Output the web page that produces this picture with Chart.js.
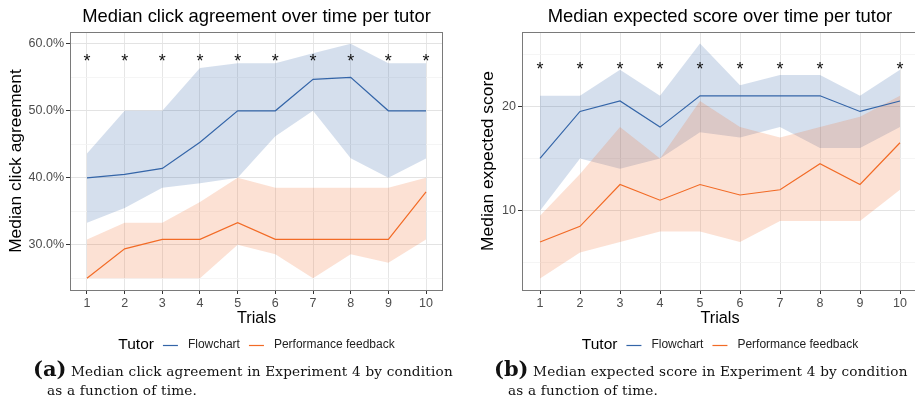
<!DOCTYPE html>
<html>
<head>
<meta charset="utf-8">
<script src="https://cdn.jsdelivr.net/npm/chart.js@4.4.1/dist/chart.umd.min.js"></script>
<style>
  html, body { margin: 0; padding: 0; background: #fff; }
  body { width: 915px; height: 406px; overflow: hidden; position: relative; }
  .panel { position: absolute; top: 0; height: 358px; }
  #panelA { left: 0; width: 450px; }
  #panelB { left: 460px; width: 460px; }
  .caption {
    position: absolute; top: 359px; white-space: nowrap;
    font-family: "DejaVu Serif", "Liberation Serif", serif;
    font-size: 13.6px; line-height: 19px; color: #111; letter-spacing: 0.2px;
  }
  .caption b { font-size: 21px; font-weight: bold; letter-spacing: 0; }
  .caption .l2 { padding-left: 14px; }
  #capA { left: 33px; }
  #capB { left: 494px; }
</style>
</head>
<body>
<div class="panel" id="panelA"><canvas id="clickChart"></canvas></div>
<div class="panel" id="panelB"><canvas id="scoreChart"></canvas></div>
<div class="caption" id="capA"><b>(a)</b> Median click agreement in Experiment 4 by condition<br><span class="l2">as a function of time.</span></div>
<div class="caption" id="capB"><b>(b)</b> Median expected score in Experiment 4 by condition<br><span class="l2">as a function of time.</span></div>

<script>
const trials = [1, 2, 3, 4, 5, 6, 7, 8, 9, 10];
const tutors = ['Flowchart', 'Performance feedback'];

// click agreement (%) - median and ribbon bounds
const clickFlow   = [40.0, 40.5, 41.4, 45.3, 50.0, 50.0, 54.7, 55.0, 50.0, 50.0];
const clickFlowHi = [43.6, 50.0, 50.0, 56.4, 57.1, 57.1, 58.6, 60.0, 57.1, 57.1];
const clickFlowLo = [33.3, 35.5, 38.5, 39.2, 40.0, 46.2, 50.0, 42.9, 40.0, 42.9];
const clickPerf   = [25.0, 29.4, 30.8, 30.8, 33.3, 30.8, 30.8, 30.8, 30.8, 37.9];
const clickPerfHi = [30.8, 33.3, 33.3, 36.4, 40.0, 38.5, 38.5, 38.5, 38.5, 40.0];
const clickPerfLo = [25.0, 25.0, 25.0, 25.0, 30.0, 28.6, 25.0, 28.6, 27.3, 30.8];
const clickStars  = [1, 2, 3, 4, 5, 6, 7, 8, 9, 10];
const clickTicks  = [30, 40, 50, 60];
const clickMinor  = [25, 35, 45, 55];

// expected score - median and ribbon bounds
const scoreFlow   = [15, 19.5, 20.5, 18, 21, 21, 21, 21, 19.5, 20.5];
const scoreFlowHi = [21, 21, 23.5, 21, 26, 22, 23, 23, 21, 23.5];
const scoreFlowLo = [10, 15, 14, 15, 17.5, 17, 18, 16, 16, 18];
const scorePerf   = [7, 8.5, 12.5, 11, 12.5, 11.5, 12, 14.5, 12.5, 16.5];
const scorePerfHi = [9.5, 13.5, 18, 15, 20.5, 18, 17, 18, 19, 21];
const scorePerfLo = [3.5, 6, 7, 8, 8, 7, 9, 9, 9, 12];
const scoreStars  = [1, 2, 3, 4, 5, 6, 7, 8, 10];
const scoreTicks  = [10, 20];
const scoreMinor  = [5, 15, 25];

const BLUE = '#3465a8';
const ORANGE = '#f26b26';
const BLUE_FILL = 'rgba(46,95,163,0.2)';
const ORANGE_FILL = 'rgba(242,107,38,0.2)';

Chart.defaults.font.family = '"Liberation Sans", Arial, Helvetica, sans-serif';
Chart.defaults.animation = false;

const xy = (vals) => vals.map((v, i) => ({ x: trials[i], y: v }));

// draws the panel border, significance stars and the "Tutor" legend row
const panelDecor = {
  id: 'panelDecor',
  afterDatasetsDraw(chart, args, opts) {
    const { ctx, scales } = chart;
    const size = 18;
    ctx.save();
    ctx.fillStyle = '#111';
    ctx.font = `${size}px "Liberation Sans", Arial, sans-serif`;
    ctx.textAlign = 'center';
    ctx.textBaseline = 'alphabetic';
    opts.stars.forEach(t => {
      const px = scales.x.getPixelForValue(t);
      const py = scales.y.getPixelForValue(opts.starY);
      ctx.fillText('*', px, py + 0.57 * size);
    });
    ctx.restore();
  },
  afterDraw(chart, args, opts) {
    const { ctx, chartArea: a } = chart;
    ctx.save();
    ctx.strokeStyle = '#7a7a7a';
    ctx.lineWidth = 1;
    ctx.strokeRect(Math.round(a.left) + 0.5, Math.round(a.top) + 0.5,
      Math.round(a.right - a.left) - 1, Math.round(a.bottom - a.top));

    // legend row
    const y = a.bottom + 55;
    const titleFont = '15.5px "Liberation Sans", Arial, sans-serif';
    const itemFont = '12px "Liberation Sans", Arial, sans-serif';
    const lines = chart.data.datasets.filter(d => d.isMedian);
    ctx.font = titleFont;
    const titleW = ctx.measureText('Tutor').width;
    ctx.font = itemFont;
    const widths = lines.map(d => ctx.measureText(d.label).width);
    const keyW = 15, gapA = 9, gapB = 10;
    let total = titleW;
    widths.forEach(w => { total += gapA + keyW + gapB + w; });
    let x = (a.left + a.right) / 2 - total / 2;
    ctx.textBaseline = 'middle';
    ctx.textAlign = 'left';
    ctx.fillStyle = '#000';
    ctx.font = titleFont;
    ctx.fillText('Tutor', x, y);
    x += titleW;
    lines.forEach((d, i) => {
      x += gapA;
      ctx.strokeStyle = d.borderColor;
      ctx.lineWidth = 1.2;
      ctx.beginPath();
      ctx.moveTo(x, y + 0.5);
      ctx.lineTo(x + keyW, y + 0.5);
      ctx.stroke();
      x += keyW + gapB;
      ctx.font = itemFont;
      ctx.fillStyle = '#222';
      ctx.fillText(d.label, x, y);
      x += widths[i];
    });
    ctx.restore();
  }
};

function makeDatasets(flow, flowHi, flowLo, perf, perfHi, perfLo) {
  const band = (data, color, fill, order) => ({
    data: xy(data), borderWidth: 0, pointRadius: 0,
    backgroundColor: color, fill: fill, order: order, tension: 0
  });
  return [
    { label: tutors[0], isMedian: true, data: xy(flow), borderColor: BLUE,
      borderWidth: 1.2, pointRadius: 0, fill: false, order: 0 },
    { label: tutors[1], isMedian: true, data: xy(perf), borderColor: ORANGE,
      borderWidth: 1.2, pointRadius: 0, fill: false, order: 0 },
    band(flowHi, BLUE_FILL, '+1', 2),
    band(flowLo, BLUE_FILL, false, 2),
    band(perfHi, ORANGE_FILL, '+1', 1),
    band(perfLo, ORANGE_FILL, false, 1)
  ];
}

function makeChart(canvasId, cfg) {
  const isMajor = v => cfg.majors.includes(v);
  return new Chart(document.getElementById(canvasId), {
    type: 'line',
    data: { datasets: makeDatasets(...cfg.series) },
    plugins: [panelDecor],
    options: {
      responsive: true,
      maintainAspectRatio: false,
      layout: { padding: { left: 0, right: cfg.padRight, top: 0, bottom: 28 } },
      plugins: {
        legend: { display: false },
        tooltip: { enabled: false },
        title: {
          display: true, text: cfg.title, fullSize: false, color: '#000',
          font: { size: 18.4, weight: 'normal' },
          padding: { top: 6, bottom: 4 }
        },
        panelDecor: { stars: cfg.stars, starY: cfg.starY }
      },
      scales: {
        x: {
          type: 'linear', min: 0.55, max: 10.45,
          afterBuildTicks: axis => { axis.ticks = trials.map(v => ({ value: v })); },
          afterFit: axis => { axis.height = 40; },
          ticks: { autoSkip: false, maxRotation: 0, color: '#4d4d4d',
                   font: { size: 12.5 }, padding: 2 },
          grid: { color: '#e6e6e6', tickColor: '#333', tickLength: 4 },
          border: { display: false },
          title: { display: true, text: 'Trials', color: '#000',
                   font: { size: 16.3 }, padding: { top: 0, bottom: 2 } }
        },
        y: {
          type: 'linear', min: cfg.yMin, max: cfg.yMax,
          afterBuildTicks: axis => {
            axis.ticks = [...cfg.majors, ...cfg.minors].sort((a, b) => a - b)
              .map(v => ({ value: v }));
          },
          afterFit: axis => { axis.width = cfg.yWidth; },
          ticks: {
            color: '#4d4d4d', font: { size: 12.5 }, padding: 2,
            callback: v => isMajor(v) ? cfg.fmt(v) : ''
          },
          grid: {
            color: c => isMajor(c.tick.value) ? '#e3e3e3' : '#f2f2f2',
            lineWidth: c => isMajor(c.tick.value) ? 1 : 0.8,
            tickColor: c => isMajor(c.tick.value) ? '#333' : 'rgba(0,0,0,0)',
            tickLength: 4
          },
          border: { display: false },
          title: { display: true, text: cfg.yTitle, color: '#000',
                   font: { size: 17.4 }, padding: { top: cfg.yTitlePad, bottom: 0 } }
        }
      }
    }
  });
}

makeChart('clickChart', {
  title: 'Median click agreement over time per tutor',
  yTitle: 'Median click agreement',
  series: [clickFlow, clickFlowHi, clickFlowLo, clickPerf, clickPerfHi, clickPerfLo],
  majors: clickTicks, minors: clickMinor,
  yMin: 23.25, yMax: 61.75, yWidth: 70, yTitlePad: 5.6, padRight: 7,
  stars: clickStars, starY: 58,
  fmt: v => v.toFixed(1) + '%'
});

makeChart('scoreChart', {
  title: 'Median expected score over time per tutor',
  yTitle: 'Median expected score',
  series: [scoreFlow, scoreFlowHi, scoreFlowLo, scorePerf, scorePerfHi, scorePerfLo],
  majors: scoreTicks, minors: scoreMinor,
  yMin: 2.4, yMax: 27.1, yWidth: 62, yTitlePad: 17.6, padRight: 2,
  stars: scoreStars, starY: 24,
  fmt: v => String(v)
});
</script>
</body>
</html>
